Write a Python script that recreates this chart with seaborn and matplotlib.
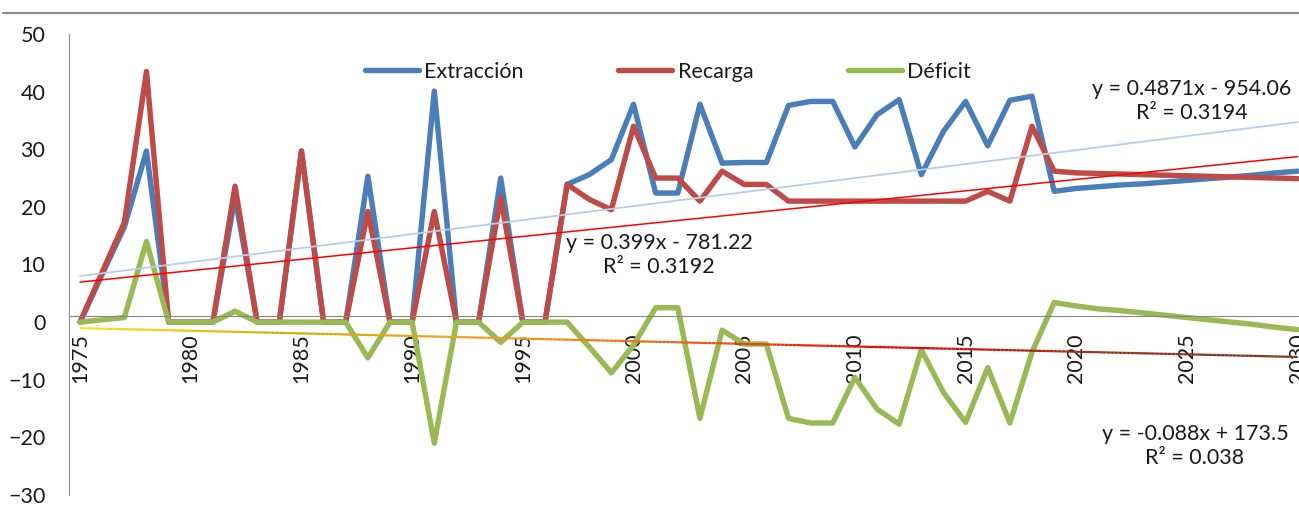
import numpy as np
import pandas as pd
import matplotlib
matplotlib.use('Agg')
import matplotlib.pyplot as plt
from matplotlib.collections import LineCollection
from matplotlib.colors import LinearSegmentedColormap
from matplotlib.lines import Line2D
import seaborn as sns

# ---- data ----
years = np.arange(1975, 2031)

extraccion = [0, 8.3, 16.5, 29.7, 0, 0, 0, 21.7, 0, 0,
              29.7, 0, 0, 25.3, 0, 0, 40.1, 0, 0, 25.0,
              0, 0, 23.9, 25.6, 28.2, 37.8, 22.4, 22.4, 37.8, 27.6,
              27.7, 27.7, 37.6, 38.3, 38.3, 30.4, 36.0, 38.6, 25.6, 33.1,
              38.3, 30.6, 38.5, 39.2, 22.7, 23.2, 23.5, 23.8, 24.0, 24.3,
              24.6, 24.9, 25.2, 25.5, 25.9, 26.2]

recarga = [0, 8.7, 17.3, 43.5, 0, 0, 0, 23.6, 0, 0,
           29.7, 0, 0, 19.2, 0, 0, 19.2, 0, 0, 21.6,
           0, 0, 23.9, 21.3, 19.5, 34.0, 25.0, 25.0, 21.0, 26.2,
           23.9, 23.9, 21.0, 21.0, 21.0, 21.0, 21.0, 21.0, 21.0, 21.0,
           21.0, 22.7, 21.0, 34.0, 26.2, 25.9, 25.8, 25.7, 25.6, 25.5,
           25.4, 25.3, 25.2, 25.1, 25.0, 24.9]

deficit = [0, 0.4, 0.8, 14.0, 0, 0, 0, 1.9, 0, 0,
           0, 0, 0, -6.2, 0, 0, -21.0, 0, 0, -3.5,
           0, 0, 0, -4.3, -8.8, -4.0, 2.5, 2.5, -16.7, -1.4,
           -3.8, -3.8, -16.7, -17.5, -17.5, -9.6, -15.1, -17.7, -4.8, -12.2,
           -17.4, -7.9, -17.5, -5.2, 3.4, 2.8, 2.3, 2.0, 1.6, 1.2,
           0.8, 0.4, 0.0, -0.4, -0.9, -1.3]

series_names = ['Extracción', 'Recarga', 'Déficit']
series_colors = ['#4A7EBB', '#BE4B48', '#98B954']
trend_texts = ['y = 0.4871x - 954.06\nR² = 0.3194',
               'y = 0.399x - 781.22\nR² = 0.3192',
               'y = -0.088x + 173.5\nR² = 0.038']

sns.set_style('white')
plt.rcParams['font.family'] = ['Lato', 'DejaVu Sans']
FS = 15.5
TXT = '#1a1a1a'
GRID = '#868686'

W, H = 1299, 519
fig = plt.figure(figsize=(W / 100, H / 100), dpi=100)
ax = fig.add_axes([69 / W, (H - 495) / H, (W - 69) / W, 461 / H])

df = pd.DataFrame({'Año': years, 'Extracción': extraccion,
                   'Recarga': recarga, 'Déficit': deficit})
long_df = df.melt(id_vars='Año', var_name='Serie', value_name='Valor')

sns.lineplot(data=long_df, x='Año', y='Valor', hue='Serie', hue_order=series_names,
             palette=dict(zip(series_names, series_colors)), linewidth=3.9,
             legend=False, ax=ax, zorder=2)

# linear trendlines (drawn on top like in Excel)
sns.regplot(data=df, x='Año', y='Extracción', scatter=False, ci=None, truncate=True,
            color='#B9CDE5', line_kws={'linewidth': 1.3, 'zorder': 3}, ax=ax)
sns.regplot(data=df, x='Año', y='Recarga', scatter=False, ci=None, truncate=True,
            color='#FF0000', line_kws={'linewidth': 1.1, 'zorder': 3}, ax=ax)

# deficit trendline with a yellow -> red -> brown gradient
slope, intercept = np.polyfit(years, deficit, 1)
xs = np.linspace(years[0], years[-1], 300)
ys = slope * xs + intercept
pts = np.column_stack([xs, ys]).reshape(-1, 1, 2)
segs = np.concatenate([pts[:-1], pts[1:]], axis=1)
cmap = LinearSegmentedColormap.from_list(
    'trend', ['#FFE21A', '#D4AA00', '#F0A020', '#E86010', '#F00000', '#A0301A', '#7A3A20'])
lc = LineCollection(segs, colors=cmap(np.linspace(0, 1, len(segs))), linewidth=1.6, zorder=3)
ax.add_collection(lc)

ax.set_xlim(1974.5, 2030.06)
ax.set_ylim(-30, 50)
ax.set_xlabel('')
ax.set_ylabel('')

# axes styling
for side in ['top', 'right']:
    ax.spines[side].set_visible(False)
ax.spines['left'].set_color(GRID)
ax.spines['bottom'].set_color(GRID)
ax.spines['bottom'].set_position(('data', 1.0))

ax.set_yticks(np.arange(-30, 51, 10))
ax.tick_params(axis='y', direction='out', length=7, width=1, color=GRID,
               labelsize=FS, labelcolor=TXT, pad=10)
ax.set_xticks(np.arange(1975, 2031, 5))
ax.set_xticklabels([str(y) for y in range(1975, 2031, 5)], rotation=90)
ax.set_xticks(np.arange(1979.5, 2030, 5), minor=True)
ax.tick_params(axis='x', which='major', length=0, labelsize=FS, labelcolor=TXT, pad=12)
ax.tick_params(axis='x', which='minor', direction='in', length=6, width=1, color=GRID)

# legend
handles = [Line2D([0], [0], color=c, linewidth=3.9) for c in series_colors]
ax.legend(handles, series_names, ncol=3, loc='center', bbox_to_anchor=(0.487, 0.918),
          frameon=False, handlelength=2.5, handletextpad=0.25, columnspacing=4.4,
          fontsize=FS, labelcolor=TXT)

# trendline equations
for txt, (cx, cy) in zip(trend_texts, [(1192, 101), (659, 255), (1195, 446)]):
    fig.text(cx / W, 1 - cy / H, txt, ha='center', va='center', multialignment='center',
             fontsize=FS, color=TXT, linespacing=1.3)

# chart border line at the top
fig.add_artist(Line2D([3 / W, 1], [1 - 13 / H, 1 - 13 / H], color='#8c8c8c',
                      linewidth=1.5, transform=fig.transFigure))

fig.savefig('out.png', dpi=100)
